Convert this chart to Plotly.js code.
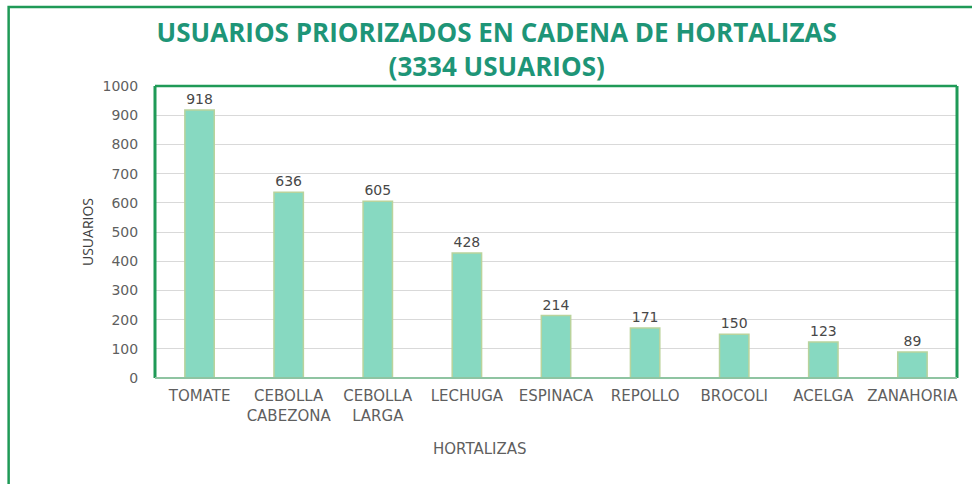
<!DOCTYPE html>
<html>
<head>
<meta charset="utf-8">
<script src="https://cdn.plot.ly/plotly-3.0.1.min.js"></script>
<style>html,body{margin:0;padding:0;background:#fff;}#chart{width:972px;height:484px;}</style>
</head>
<body>
<div id="chart"></div>
<script>
const categories = ["TOMATE", "CEBOLLA<br>CABEZONA", "CEBOLLA<br>LARGA", "LECHUGA", "ESPINACA", "REPOLLO", "BROCOLI", "ACELGA", "ZANAHORIA"];
const usuarios = [918, 636, 605, 428, 214, 171, 150, 123, 89];
const yTicks = [0, 100, 200, 300, 400, 500, 600, 700, 800, 900, 1000];

const green = "#1f9a57";
const trace = {
  type: "bar",
  x: categories,
  y: usuarios,
  text: usuarios.map(String),
  textposition: "outside",
  cliponaxis: false,
  textfont: {family: "DejaVu Sans", size: 14, color: "#484848"},
  marker: {color: "#87d9c1", line: {color: "#b9d39c", width: 1.5}},
  hoverinfo: "x+y"
};

const layout = {
  width: 972, height: 484,
  margin: {l: 155, r: 15, t: 86, b: 106, pad: 0},
  paper_bgcolor: "#ffffff", plot_bgcolor: "#ffffff",
  showlegend: false,
  bargap: 0.67,
  title: {
    text: "<b>USUARIOS PRIORIZADOS EN CADENA DE HORTALIZAS<br>(3334 USUARIOS)</b>",
    font: {family: "Open Sans", size: 26, color: "#1e9577"},
    x: 0.511, xref: "container", xanchor: "center",
    y: 0.913, yref: "container", yanchor: "top"
  },
  xaxis: {
    type: "category",
    tickfont: {family: "DejaVu Sans", size: 15, color: "#5f5f5f"},
    showgrid: false, zeroline: false, showline: false, ticks: "",
    ticklabelstandoff: 7
  },
  yaxis: {
    range: [0, 1000], tickvals: yTicks, ticktext: yTicks.map(String),
    tickfont: {family: "DejaVu Sans", size: 14, color: "#5f5f5f"},
    showgrid: true, gridcolor: "#d9d9d9", gridwidth: 1,
    zeroline: false, showline: false, ticks: "outside", ticklen: 0, tickcolor: "rgba(0,0,0,0)",
    ticklabelstandoff: 13,
    title: {text: "USUARIOS", font: {family: "Open Sans", size: 14, color: "#404040"}, standoff: 5}
  },
  annotations: [
    {text: "HORTALIZAS", xref: "paper", yref: "paper", x: (480 - 155) / 802, y: -(449 - 378) / 292,
     xanchor: "center", yanchor: "middle", showarrow: false,
     font: {family: "DejaVu Sans", size: 15, color: "#5f5f5f"}}
  ],
  shapes: [
    {type: "rect", xref: "paper", yref: "paper", x0: -0.1825, x1: 1.04, y0: -0.4, y1: 1.2705, line: {color: green, width: 2.5}, fillcolor: "rgba(0,0,0,0)", layer: "below"},
    {type: "line", xref: "paper", yref: "paper", x0: 0, x1: 0, y0: 0, y1: 1, line: {color: green, width: 3}},
    {type: "line", xref: "paper", yref: "paper", x0: 0, x1: 1, y0: 1, y1: 1, line: {color: green, width: 2.5}},
    {type: "line", xref: "paper", yref: "paper", x0: 1, x1: 1, y0: 0, y1: 1, line: {color: green, width: 3}},
    {type: "line", xref: "paper", yref: "paper", x0: 0, x1: 1, y0: 0, y1: 0, line: {color: "#8fc4a2", width: 2}}
  ]
};

Plotly.newPlot("chart", [trace], layout, {displayModeBar: false, staticPlot: true});
</script>
</body>
</html>
